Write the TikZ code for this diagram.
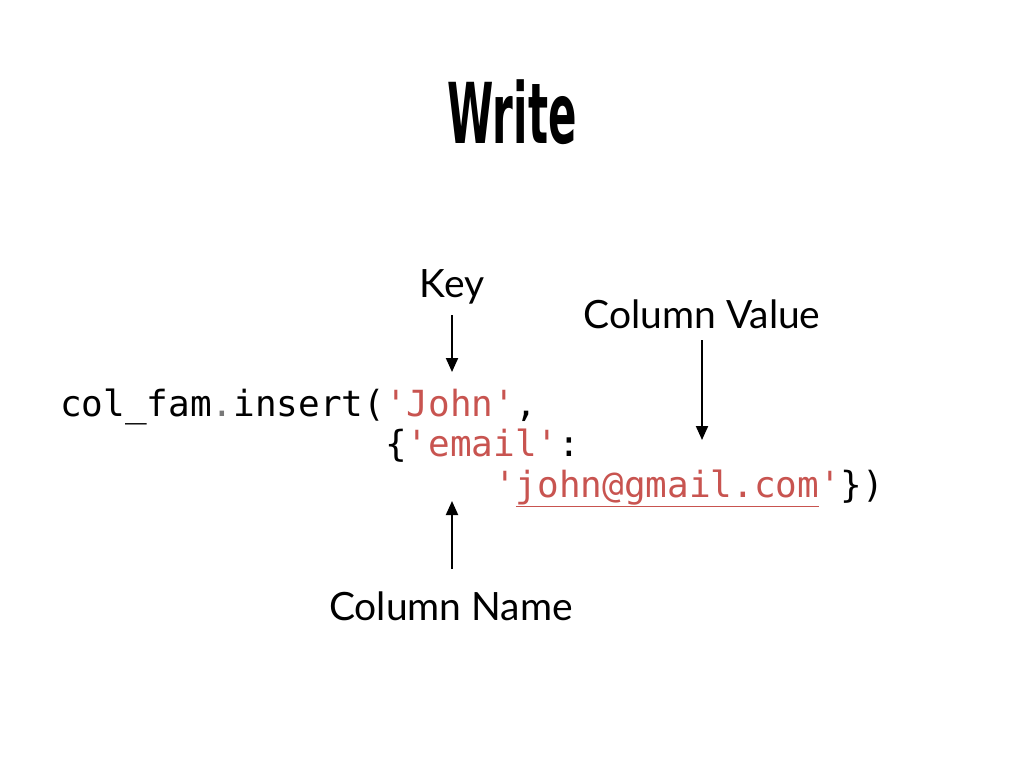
\documentclass[tikz,border=0pt]{standalone}
\usepackage{fontspec}
\usetikzlibrary{arrows.meta}
\newfontfamily\codefont{DejaVu Sans Mono}
\newfontfamily\labelfont{Lato}
\newfontfamily\titlefont[FakeStretch=0.5]{DejaVu Sans}
\definecolor{strred}{RGB}{200,84,80}
\definecolor{dotgray}{RGB}{120,120,120}
\begin{document}
\begin{tikzpicture}[x=1pt,y=-1pt,
  lbl/.style={font=\labelfont\fontsize{39}{44}\selectfont, anchor=base, inner sep=0pt},
  code/.style={font=\codefont\fontsize{36}{40}\selectfont, anchor=base west, inner sep=0pt},
  arr/.style={-{Triangle[length=14pt,width=12pt]}, line width=2pt}]
\useasboundingbox (0,0) rectangle (1024,768);
\node[font=\titlefont\bfseries\fontsize{84}{90}\selectfont, anchor=base, inner sep=0pt] (title) at (512,143) {Write};
\node[code] (l1) at (60,416) {col\_fam{\color{dotgray}.}insert({\color{strred}'John'},};
\node[code] (l2) at (385,456) {\{{\color{strred}'email'}:};
\node[code] (l3) at (494,497) {{\color{strred}'\underline{john@gmail.com}'}\})};
\node[lbl] (key) at (452,297) {Key};
\node[lbl] (cval) at (702,328) {Column Value};
\node[lbl] (cname) at (451,620) {Column Name};
\coordinate (keyend) at (452,372);
\coordinate (cvalend) at (702,440);
\coordinate (cnameend) at (452,501);
\draw[arr] (key.south |- 0,315) -- (keyend);
\draw[arr] (cval.south |- 0,340) -- (cvalend);
\draw[arr] (cname.north -| cnameend) ++(0,-22) -- (cnameend);
\end{tikzpicture}
\end{document}
